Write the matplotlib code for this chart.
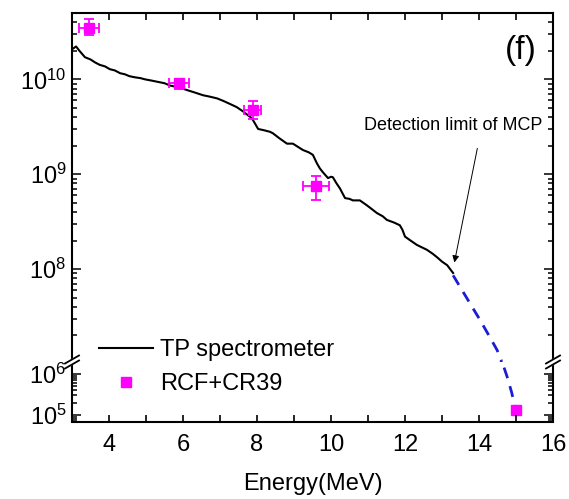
import numpy as np
import matplotlib
matplotlib.use('Agg')
import matplotlib.pyplot as plt
from matplotlib.ticker import FixedLocator, FuncFormatter, NullFormatter
from matplotlib.collections import LineCollection
from matplotlib.transforms import blended_transform_factory

plt.rcParams['font.family'] = ['Liberation Sans', 'DejaVu Sans']
plt.rcParams['mathtext.fontset'] = 'custom'
plt.rcParams['mathtext.rm'] = 'Liberation Sans'

# TP spectrometer (energy in MeV, counts)
tp_energy = [3.00, 3.11, 3.20, 3.35, 3.50, 3.62, 3.75, 3.89, 4.02, 4.16, 4.30,
             4.43, 4.55, 4.70, 4.85, 4.97, 5.15, 5.38, 5.50, 5.65, 5.90, 6.11,
             6.30, 6.54, 6.70, 6.92, 7.10, 7.27, 7.45, 7.62, 7.75, 7.86, 7.95,
             8.03, 8.20, 8.35, 8.43, 8.60, 8.81, 8.97, 9.10, 9.24, 9.40, 9.51,
             9.62, 9.70, 9.78, 9.92, 10.00, 10.05, 10.15, 10.24, 10.38, 10.50,
             10.59, 10.78, 10.97, 11.10, 11.24, 11.40, 11.51, 11.70, 11.86,
             11.93, 12.00, 12.15, 12.32, 12.45, 12.59, 12.75, 12.86, 13.00,
             13.14, 13.22, 13.30]
tp_counts = [2.07e10, 2.22e10, 2.0e10, 1.71e10, 1.62e10, 1.51e10, 1.42e10, 1.37e10,
             1.28e10, 1.24e10, 1.16e10, 1.13e10, 1.08e10, 1.05e10, 1.03e10, 1.0e10,
             9.7e9, 9.3e9, 9.1e9, 8.6e9, 8.2e9, 7.7e9, 7.3e9, 6.8e9, 6.6e9, 6.3e9,
             5.9e9, 5.5e9, 5.1e9, 4.6e9, 4.2e9, 3.9e9, 3.4e9, 3.0e9, 2.9e9, 2.8e9,
             2.7e9, 2.4e9, 2.1e9, 2.1e9, 1.95e9, 1.8e9, 1.7e9, 1.6e9, 1.3e9, 1.15e9,
             1.05e9, 9.1e8, 9.4e8, 9.3e8, 8.0e8, 7.1e8, 5.6e8, 5.5e8, 5.3e8, 5.3e8,
             4.7e8, 4.3e8, 3.9e8, 3.6e8, 3.3e8, 3.1e8, 2.9e8, 2.6e8, 2.2e8, 2.0e8,
             1.8e8, 1.7e8, 1.6e8, 1.45e8, 1.34e8, 1.2e8, 1.1e8, 1.0e8, 9.1e7]

# dashed extrapolation beyond the MCP limit
ext_energy = [13.30, 13.60, 14.03, 14.30, 14.49, 14.60, 14.64, 14.76, 14.88, 14.97, 15.00]
ext_counts = [8.6e7, 5.5e7, 2.9e7, 1.9e7, 1.4e7, 1.1e7, 1.8e6, 8.5e5, 3.6e5, 1.6e5, 1.3e5]

# RCF + CR39 points
rcf_energy = [3.46, 5.89, 7.89, 9.59, 15.0]
rcf_counts = [3.5e10, 9.1e9, 4.8e9, 7.5e8, 1.3e5]
rcf_xerr = [0.26, 0.26, 0.23, 0.35, 0.0]
rcf_yerr_lo = [0.6e10, 1.1e9, 1.0e9, 2.2e8, 0.0]
rcf_yerr_hi = [0.8e10, 1.0e9, 1.1e9, 2.0e8, 0.0]

x_major = [4, 6, 8, 10, 12, 14, 16]
x_minor = [3, 5, 7, 9, 11, 13, 15]
y_major_hi = [1e8, 1e9, 1e10]
y_major_lo = [1e5, 1e6]

MAGENTA = '#ff00ff'
BLUE = '#1c1cd6'
W, H = 569, 499

fig = plt.figure(figsize=(W / 100, H / 100), dpi=100)
x_l, x_r = 72, 553
y_top, y_mid, y_bot = 13, 362, 421.5
bw = x_r - x_l
ax_hi = fig.add_axes([x_l / W, 1 - y_mid / H, bw / W, (y_mid - y_top) / H])
ax_lo = fig.add_axes([x_l / W, 1 - y_bot / H, bw / W, (y_bot - y_mid) / H])

minor_y = [m * 10.0**e for e in range(4, 11) for m in range(2, 10)]

for ax in (ax_hi, ax_lo):
    ax.patch.set_visible(False)
    ax.plot(tp_energy, tp_counts, color='black', lw=1.5, label='TP spectrometer')
    ax.plot(ext_energy, ext_counts, color=BLUE, lw=2, ls=(0, (4, 3)))
    ax.errorbar(rcf_energy, rcf_counts, xerr=rcf_xerr, yerr=[rcf_yerr_lo, rcf_yerr_hi],
                fmt='none', ecolor=MAGENTA, elinewidth=1.3, capsize=3.5, capthick=1.3)
    ax.plot(rcf_energy, rcf_counts, 's', color=MAGENTA, ms=6.5, ls='none', label='RCF+CR39')
    ax.set_yscale('log')
    ax.set_xlim(3, 16)
    ax.xaxis.set_major_locator(FixedLocator(x_major))
    ax.xaxis.set_minor_locator(FixedLocator(x_minor))
    ax.yaxis.set_minor_locator(FixedLocator(minor_y))
    ax.yaxis.set_minor_formatter(NullFormatter())
    ax.yaxis.set_major_formatter(FuncFormatter(lambda v, p: r'$\mathregular{10^{%d}}$' % round(np.log10(v))))
    ax.tick_params(which='both', direction='in', length=0, labelsize=17)
    ax.tick_params(axis='y', pad=4)
    ax.tick_params(axis='x', pad=9)
    for s in ax.spines.values():
        s.set_linewidth(1.5)

ax_hi.set_ylim(1.05e7, 5e10)
ax_lo.set_ylim(6.9e4, 1.95e6)
ax_hi.yaxis.set_major_locator(FixedLocator(y_major_hi))
ax_lo.yaxis.set_major_locator(FixedLocator(y_major_lo))
ax_hi.spines['bottom'].set_visible(False)
ax_lo.spines['top'].set_visible(False)
ax_hi.tick_params(axis='x', which='both', labelbottom=False)


# inward tick marks drawn as line segments (lengths in pixels)
def tick_marks(ax, h_px, majors, x_side):
    lo, hi = ax.get_ylim()
    tx = blended_transform_factory(ax.transData, ax.transAxes)
    ty = blended_transform_factory(ax.transAxes, ax.transData)
    ax_y = 0 if x_side == 'bottom' else 1
    sgn = 1 if x_side == 'bottom' else -1
    xl = 7 / h_px
    segs_x = [[(x, ax_y), (x, ax_y + sgn * xl)] for x in range(4, 16)]
    ax.add_collection(LineCollection(segs_x, colors='black', linewidths=1.2,
                                     transform=tx, clip_on=False, zorder=3))
    segs_y = []
    for y in minor_y + majors:
        if lo < y < hi:
            ln = (9 if y in majors else 5) / bw
            segs_y += [[(0, y), (ln, y)], [(1, y), (1 - ln, y)]]
    ax.add_collection(LineCollection(segs_y, colors='black', linewidths=1.1,
                                     transform=ty, clip_on=False, zorder=3))


tick_marks(ax_hi, y_mid - y_top, y_major_hi, 'top')
tick_marks(ax_lo, y_bot - y_mid, y_major_lo, 'bottom')

ax_lo.set_xlabel('Energy(MeV)', fontsize=17, labelpad=12)

# axis break marks, drawn in the lower axes so they sit over both spines
bh = y_bot - y_mid
for xa in (0, 1):
    dx, dy = 7 / bw, 4 / bh
    ax_lo.fill([xa - dx, xa + dx, xa + dx, xa - dx],
               [1 - 6.5 / bh, 1 + 1.5 / bh, 1 + 6.5 / bh, 1 - 1.5 / bh],
               color='white', transform=ax_lo.transAxes, clip_on=False, zorder=10)
    for off in (-2.5, 2.5):
        yc = 1 + off / bh
        ax_lo.plot([xa - dx, xa + dx], [yc - dy, yc + dy], color='black', lw=1.3,
                   transform=ax_lo.transAxes, clip_on=False, zorder=11)

ax_hi.text(15.14, 10**10.305, '(f)', fontsize=24, ha='center', va='center')
ax_hi.text(13.30, 3.3e9, 'Detection limit of MCP', fontsize=13, ha='center', va='center')
ax_hi.annotate('', xy=(13.32, 1.1e8), xytext=(13.97, 2.0e9),
               arrowprops=dict(arrowstyle='-|>', color='black', lw=0.7, mutation_scale=10))

h, l = ax_hi.get_legend_handles_labels()
ax_hi.legend(h, l, loc='upper left', bbox_to_anchor=(99 / W, 1 - 339 / H),
             bbox_transform=fig.transFigure, frameon=False,
             fontsize=17, handlelength=2.3, handletextpad=0.3, labelspacing=0.5,
             numpoints=1, borderaxespad=0, borderpad=0)

fig.savefig('out.png', dpi=100)
